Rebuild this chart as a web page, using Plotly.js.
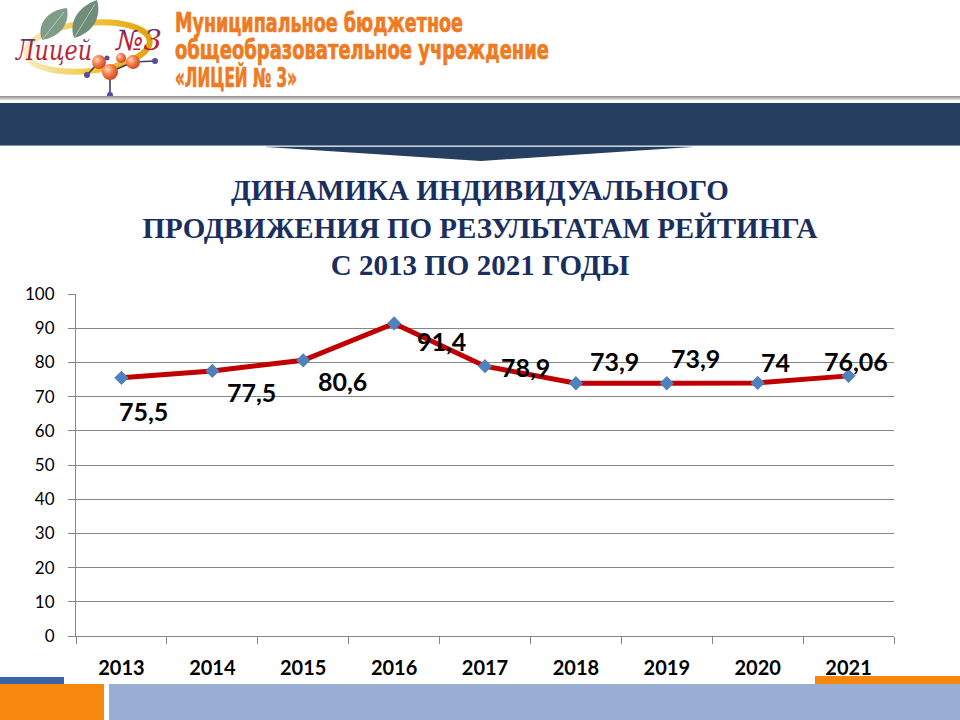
<!DOCTYPE html>
<html lang="ru">
<head>
<meta charset="utf-8">
<script src="https://cdn.plot.ly/plotly-3.0.1.min.js"></script>
<style>
  body { margin: 0; background: #fff; }
  #slide { position: relative; width: 960px; height: 720px; overflow: hidden; background: #fff; }
  #decor, #chart { position: absolute; left: 0; top: 0; }
</style>
</head>
<body>
<div id="slide">
<svg id="decor" width="960" height="720" xmlns="http://www.w3.org/2000/svg">
  <defs>
    <linearGradient id="ring" x1="0" x2="1">
      <stop offset="0" stop-color="#f6ecc0"/>
      <stop offset="0.55" stop-color="#f3c533"/>
      <stop offset="1" stop-color="#e0a410"/>
    </linearGradient>
    <linearGradient id="lyc" x1="0" y1="0" x2="0" y2="1">
      <stop offset="0" stop-color="#2b3d9c"/>
      <stop offset="0.45" stop-color="#c42238"/>
      <stop offset="1" stop-color="#a81a2c"/>
    </linearGradient>
    <radialGradient id="ball" cx="0.35" cy="0.35" r="0.7">
      <stop offset="0" stop-color="#ffd6bd"/>
      <stop offset="0.5" stop-color="#f27a45"/>
      <stop offset="1" stop-color="#c9461d"/>
    </radialGradient>
    <linearGradient id="rule" x1="0" y1="0" x2="0" y2="1">
      <stop offset="0" stop-color="#8c8c8c"/>
      <stop offset="1" stop-color="#e2e2e2"/>
    </linearGradient>
  </defs>

  <!-- logo -->
  <ellipse cx="88" cy="47" rx="62" ry="24" fill="none" stroke="url(#ring)" stroke-width="6" transform="rotate(-6 88 47)"/>
  <path d="M42,40 C36,24 48,10 67,8 C70,24 60,37 42,40 Z" fill="#7f9c88"/>
  <path d="M42,40 L64,12" stroke="#b8cbbd" stroke-width="1"/>
  <path d="M74,38 C68,20 80,6 97,0 C102,17 93,33 74,38 Z" fill="#6f8d79"/>
  <path d="M74,38 L95,4" stroke="#b0c4b6" stroke-width="1"/>
  <g stroke="#3b3b6e" stroke-width="1.6">
    <line x1="99" y1="62" x2="110" y2="72"/>
    <line x1="110" y1="72" x2="133" y2="62"/>
    <line x1="110" y1="72" x2="110" y2="95"/>
    <line x1="99" y1="62" x2="87" y2="75"/>
    <line x1="133" y1="62" x2="155" y2="61"/>
    <line x1="99" y1="62" x2="107" y2="58"/>
  </g>
  <circle cx="99" cy="62" r="7" fill="url(#ball)"/>
  <circle cx="121" cy="58" r="5" fill="url(#ball)"/>
  <circle cx="133" cy="62" r="7" fill="url(#ball)"/>
  <circle cx="110" cy="72" r="8" fill="url(#ball)"/>
  <circle cx="87" cy="75" r="3" fill="#5b4aa0"/>
  <circle cx="110" cy="95" r="3" fill="#5b4aa0"/>
  <circle cx="155" cy="61" r="3" fill="#5b4aa0"/>
  <circle cx="107" cy="58" r="2.5" fill="#5b4aa0"/>
  <text x="16" y="60" font-family="DejaVu Serif" font-style="italic" font-size="28" fill="url(#lyc)" textLength="76" lengthAdjust="spacingAndGlyphs">Лицей</text>
  <text x="116" y="50" font-family="DejaVu Serif" font-style="italic" font-size="28" fill="url(#lyc)" textLength="46" lengthAdjust="spacingAndGlyphs">№3</text>

  <!-- organisation name -->
  <g font-family="DejaVu Sans Condensed" font-weight="bold" font-size="26" fill="#ee7a22" stroke="#ee7a22" stroke-width="0.7">
    <text x="175" y="32" textLength="288" lengthAdjust="spacingAndGlyphs">Муниципальное бюджетное</text>
    <text x="175" y="59" textLength="374" lengthAdjust="spacingAndGlyphs">общеобразовательное учреждение</text>
    <text x="175" y="87" textLength="122" lengthAdjust="spacingAndGlyphs">«ЛИЦЕЙ № 3»</text>
  </g>

  <!-- header band -->
  <rect x="0" y="96" width="960" height="4" fill="url(#rule)"/>
  <rect x="0" y="103" width="960" height="43" fill="#263f60"/>
  <rect x="0" y="145" width="960" height="1" fill="#7f93ab"/>
  <rect x="266" y="146" width="426" height="1" fill="#c9d2dd"/>
  <polygon points="266,147 692,147 481,161" fill="#263f60"/>

  <!-- footer -->
  <rect x="0" y="677" width="64" height="7" fill="#3b63aa"/>
  <rect x="815" y="676" width="145" height="8" fill="#f7870f"/>
  <rect x="0" y="684" width="104" height="36" fill="#f7870f"/>
  <rect x="109" y="684" width="851" height="36" fill="#9aaed3"/>
</svg>
<div id="chart"></div>
</div>

<script>
// data
const years = ['2013', '2014', '2015', '2016', '2017', '2018', '2019', '2020', '2021'];
const scores = [75.5, 77.5, 80.6, 91.4, 78.9, 73.9, 73.9, 74, 76.06];
const titleLines = [
  'ДИНАМИКА ИНДИВИДУАЛЬНОГО',
  'ПРОДВИЖЕНИЯ ПО РЕЗУЛЬТАТАМ РЕЙТИНГА',
  'С 2013 ПО 2021 ГОДЫ'
];

// label offsets from each point, px (right, down)
const labelShift = [[22, 33], [39, 21], [39, 21], [47, 18], [40, 1], [39, -22], [29, -25], [18, -21], [7, -15]];

const axisGrey = '#868686';

let trace = {
  x: years,
  y: scores,
  type: 'scatter',
  mode: 'lines+markers',
  line: { color: '#c00000', width: 5 },
  marker: { symbol: 'diamond', size: 11, color: '#4f81bd' },
  hoverinfo: 'none',
  cliponaxis: false
};

// numeric-looking category names would be read as indices, so place labels by index
let labels = scores.map(function (v, i) {
  return {
    x: i,
    y: v,
    xref: 'x',
    yref: 'y',
    text: String(v).replace('.', ','),
    showarrow: false,
    xshift: labelShift[i][0],
    yshift: -labelShift[i][1],
    font: { family: 'Lato, sans-serif', size: 25, color: '#000', weight: 'bold' }
  };
});

let layout = {
  width: 960,
  height: 720,
  margin: { l: 76, r: 66, t: 294, b: 84 },
  paper_bgcolor: 'rgba(0,0,0,0)',
  plot_bgcolor: 'rgba(0,0,0,0)',
  showlegend: false,
  title: {
    text: titleLines.join('<br>'),
    font: { family: 'Liberation Serif, serif', size: 29, color: '#1a2f5e', weight: 'bold' },
    x: 0.5,
    xref: 'container',
    xanchor: 'center',
    y: 1 - 200 / 720,
    yref: 'container',
    yanchor: 'middle'
  },
  xaxis: {
    type: 'category',
    range: [-0.5, 8.5],
    showline: true,
    linecolor: axisGrey,
    linewidth: 1,
    ticks: 'outside',
    tickson: 'boundaries',
    ticklen: 7,
    tickcolor: axisGrey,
    showgrid: false,
    zeroline: false,
    ticklabelstandoff: 14,
    tickfont: { family: 'Lato, sans-serif', size: 20, color: '#000', weight: 'bold' }
  },
  yaxis: {
    range: [0, 100],
    dtick: 10,
    showline: true,
    linecolor: axisGrey,
    linewidth: 1,
    ticks: 'outside',
    ticklen: 7,
    tickcolor: axisGrey,
    gridcolor: axisGrey,
    gridwidth: 1,
    zeroline: false,
    ticklabelstandoff: 10,
    tickfont: { family: 'Lato, sans-serif', size: 17, color: '#000' }
  },
  annotations: labels
};

Plotly.newPlot('chart', [trace], layout, { displayModeBar: false, staticPlot: true });
</script>
</body>
</html>
